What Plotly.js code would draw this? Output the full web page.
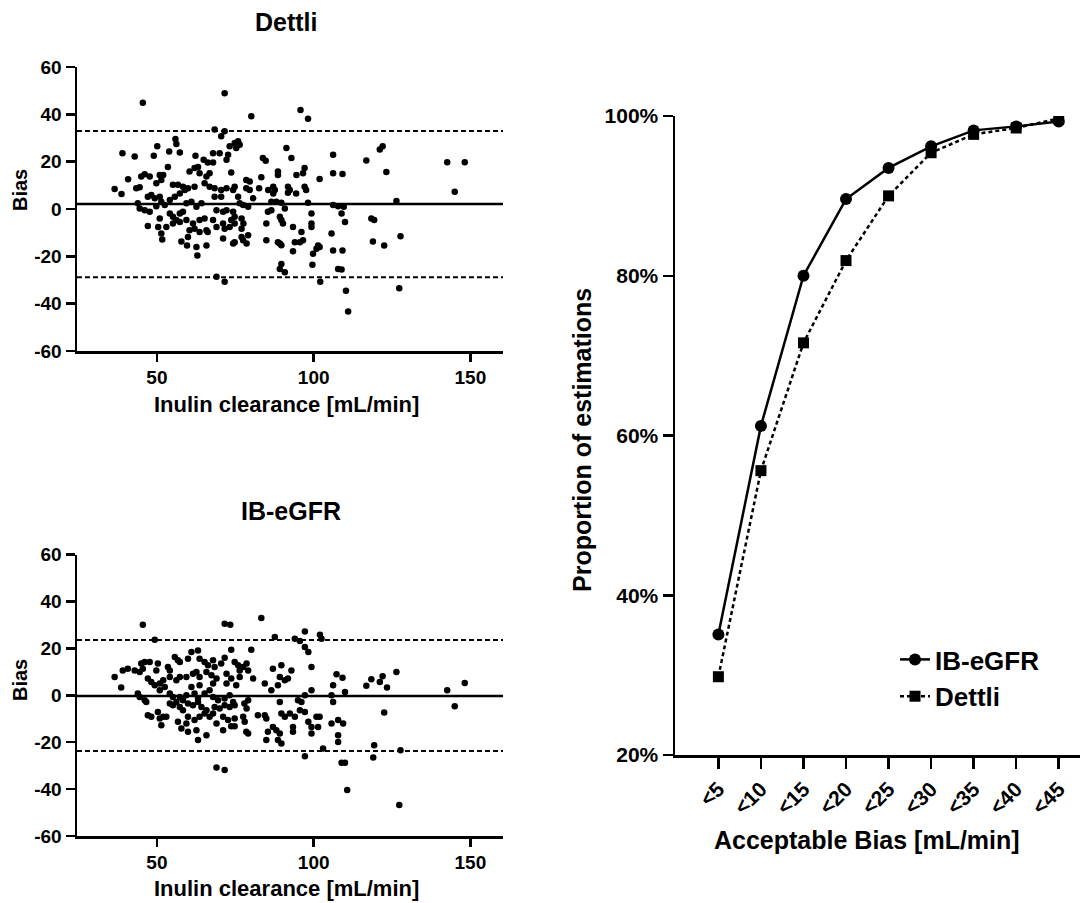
<!DOCTYPE html>
<html>
<head>
<meta charset="utf-8">
<script src="https://cdn.plot.ly/plotly-3.0.1.min.js"></script>
<style>
html,body{margin:0;padding:0;background:#fff;}
#chart{width:1083px;height:903px;}
#chart text, #chart tspan{font-weight:700 !important;}
</style>
</head>
<body>
<div id="chart"></div>
<script>
// ---- Dettli Bland-Altman data (Inulin clearance vs bias) ----
const dettliX = [45.5,39,42.9,50.1,49,53.9,57.3,55.9,56.2,62.3,53.5,63.1,64.9,66.2,40.8,36.5,38.7,45,46.1,47.7,43.4,44.5,50.9,52,51.4,49.8,55.1,56.7,58.3,59.9,60.4,62,63.6,65.8,66.8,65.2,66.8,62,47.1,48.2,49.3,50.9,43.9,44.5,46.1,47.7,49.8,51.4,52.5,54.1,55.7,57.3,58.9,54.1,55.1,56.2,57.3,58.3,59.4,61,62.6,64.2,47.1,50.9,50.4,53,51.4,51.7,55.1,57.3,59.4,61.5,63.6,65.2,60.4,62,63.6,65.8,57.8,59.6,59.9,62.6,62.9,65.8,66.2,
71.6,80.1,95.8,98.2,68.4,71.6,70.5,73.2,74.8,75.9,76.4,75.3,67.9,70,72.7,72.2,67.9,73.7,91.3,92.9,83.8,84.7,88.6,88.6,83.3,94.5,97.1,96.6,101.9,106.2,106.2,68.4,70.5,72.2,74.8,74.3,78.5,79.6,78.5,79.6,82.6,85.5,87.1,87.6,87.1,91.8,92.4,91.8,94.4,97.1,97.6,68.4,70.5,75.9,76.4,77.5,79.1,80.7,86.5,88.1,89.7,90.8,98.2,106.2,107.8,69,71.1,72.2,74.3,74.8,73.7,74.8,73.2,71.1,71.6,69,67.9,77,77.6,77,85.4,86.5,84.9,89.2,89.7,90.2,93.4,96.1,95.6,99.3,99.3,99.3,105.7,71.1,74.3,74.8,77,77.5,78.6,79.1,84.9,88.6,89.2,89.7,94,93.4,96.6,99.8,100.9,101.4,101.9,99.6,106.2,107.8,89.7,89.2,90.8,69,71.6,102.1,
121.1,122,116.8,123.2,109.2,142.6,148.2,145,126.4,109.6,108.9,110,118.4,119.3,127.7,118.9,122.5,109.2,108.9,110.3,127.3,111];
const dettliBias = [44.9,23.6,22.2,26.5,22.5,24.3,23.9,29.6,27.5,22.5,17.7,17.7,20.8,19.7,12.6,8.5,6.3,13.7,14.7,13.7,8.8,9.2,14.4,14.4,12.3,10.9,10.2,10.2,9.4,8.8,15.8,17.3,15.1,13.7,15.1,10.9,9.4,9.4,5.2,5.9,4.5,5.2,2.4,0.2,-0.5,-1.2,1.2,3.1,1.7,3.8,5.2,6.6,8.0,-1.9,-3.3,-4.7,-1.9,-1.2,2.4,3.1,0.9,2.4,-7.2,-4,-7.6,-7.6,-10.4,-12.9,-6.1,-5.5,-4.7,-6.1,-4.7,-4,-9,-8.3,-9.7,-9,-13.7,-15.4,-11.8,-16.1,-19.6,-15.4,-9.7,
48.9,39.2,41.8,38.1,33.6,32.8,30.7,26.5,27.9,28.6,27.2,25.8,23.6,23.6,22.9,20.8,19.7,15.4,25.8,21.5,21.5,20.4,15.8,14.4,13.4,14.4,17.3,15.1,12.7,22.9,15.1,8.8,8,8.8,9.4,8,12.3,11.6,8.8,8,8.8,8,9.4,8,6.6,9.4,8,6.9,6.6,9.4,8,5.2,5.2,5.2,2.4,1.7,0.9,4.5,3.1,3.1,2.6,0.2,2.6,1.7,1.2,-0.5,-1.2,-0.5,-1.2,-3.3,-4.7,-6.1,-7.6,-6.1,-8.3,-7.6,-4.7,-4,-6.1,-8.3,-1.2,-0.5,-6.1,-3.3,-4.7,-6.1,-7.6,-9.7,-14,-1.9,-6.1,-7.6,-10.4,-12.5,-14.6,-14,-11.8,-13.2,-14.6,-11.1,-13.2,-14,-14.6,-15.3,-14,-17.9,-13.2,-18.9,-16.8,-15.4,-16.1,-23.6,-17.5,-25.3,-23.2,-25.3,-26.7,-28.6,-30.7,-30.7,
25.1,26.5,20.5,15.6,14.8,19.8,19.8,7.3,3.4,0.9,-1.9,-5.5,-4,-4.7,-11.5,-13.7,-15.4,-17.5,-25.6,-34.5,-33.5,-43.3];
const dettliMean = 2.1, dettliUpper = 33.0, dettliLower = -28.8;

// ---- IB-eGFR Bland-Altman data ----
const ibX = [45.5,49.3,36.5,38.6,39.1,40.7,42.9,44.5,45.5,45,46.1,47.7,50.3,49.8,47.1,48.2,49.3,50.9,52,53.5,54.1,55.7,56.7,57.3,59.9,61,63.1,63.6,65.2,66.3,54.1,56.2,57.3,59.4,61.5,62.6,63.6,65.8,67.4,43.9,44.5,46.1,46.6,50.9,52.5,54.1,55.1,57.3,58.3,59.4,61,62,63.1,63.6,65.2,66.8,67.9,54.1,55.1,56.2,57.3,58.3,59.9,61.5,63.1,64.2,65.8,47.1,48.2,50.3,50.9,52,51.4,53,56.7,57.8,59.4,59.9,62,62.6,65.8,63.1,59.9,63.6,65.2,66.8,
71.6,73.4,83.3,87.6,94,95.6,97.2,102,102.5,97.2,98.3,73.7,80.1,67.9,71.6,70.5,68.4,69,72.2,74.8,75.9,76.4,77.5,78.6,79.1,76.4,73.7,80.7,75.3,72.2,87,89.7,92.9,89.2,90.8,91.8,88.6,84.4,99.3,107.3,106.2,110,86.5,99.3,96.1,95,97.2,89.2,105.7,106.2,67.9,69.5,71.6,73.2,74.3,73.2,74.8,71.6,68.4,70,67.9,69,71.1,72.7,74.8,77.9,79.1,78.6,77.5,78,71.1,73.7,74.8,78.5,79.1,84.9,85.4,87,88.1,89.2,88.6,89.7,82.2,84.4,84.9,89.7,90.8,92.4,94,93.4,93.4,95.6,97.2,98.3,99.3,99.3,100.9,101.9,101.4,105.7,107.8,109.4,107.8,107.8,103,97.2,69,71.6,108.9,110,110.7,
109.2,116.8,118.4,121.1,122,123.4,126.4,142.6,148.2,145,122.5,119.3,119,127.7,127.3];
const ibBias = [30,23.7,7.8,3.3,10.6,11.3,10.6,9.9,11.3,13.5,14.2,14.2,13.5,10.6,7.1,5.7,4.3,5,6.4,12,10.6,16.3,14.9,14.2,15.6,18.4,19.1,15.6,14.2,12.8,7.8,6.4,7.8,7.8,9.2,9.9,7.8,9.9,8.5,0.7,-0.7,-2.1,-2.9,2.1,3.5,0.7,-0.7,-0.7,-2.1,0,3.5,0.7,-1.4,4.3,0.7,2.1,5,-3.5,-4.3,-2.9,-5,-6.4,-3.5,-4.3,-2.9,-5,-6.4,-8.5,-9.2,-7.1,-9.9,-9.2,-12.8,-9.2,-11.3,-14.2,-12,-15.6,-10.6,-14.9,-17,-19.1,-9.2,-9.2,-7.8,-9.2,
30.5,30.1,32.9,24.8,24.1,23.1,27.2,25.8,24.1,20.6,18.4,19.4,19.4,14.9,16,13.5,12,7.1,9.2,14.2,12.8,10.6,12,13.5,10.6,7.8,7.1,7.1,4.3,5,11.3,12.8,10.6,7.8,6.4,7.1,4.3,5,12,8.9,4.3,1.4,2.1,2.1,-2.9,-2.1,0,-2.9,0,-2.9,-0.7,-2.1,-1.4,0,-2.9,-5,-4.3,-4.3,-5,-5.7,-7.8,-12,-9.2,-10.6,-9.9,-3.5,-2.1,-5.7,-9.2,-11.3,-14.9,-13.2,-13.2,-15.6,-16.3,-19.1,-15.6,-13.5,-14.9,-16.3,-19.1,-20.6,-8.5,-8.5,-9.9,-7.8,-9.2,-7.8,-9.2,-13.5,-15.6,-6.4,-7.1,-11.3,-13.5,-16.3,-9.2,-9.2,-13.5,-12,-10.6,-12,-17,-19.9,-22.7,-26,-30.8,-31.9,-28.8,-28.8,-40.4,
7.5,4,6.8,5.7,8.1,3.3,9.9,2.1,5.2,-4.7,-7.4,-21.3,-26.5,-23.4,-46.8];
const ibMean = -0.3, ibUpper = 23.5, ibLower = -23.8;

// ---- Acceptable bias (cumulative proportion) ----
const biasCategories = ["<5","<10","<15","<20","<25","<30","<35","<40","<45"];
const ibProp = [35.1,61.2,80.0,89.6,93.5,96.2,98.2,98.7,99.3];
const dettliProp = [29.8,55.6,71.6,81.9,90.0,95.4,97.7,98.5,99.7];

// ---- Tick labels ----
const clearanceTicks = [50, 100, 150];
const biasTickVals = [-60,-40,-20,0,20,40,60];
const biasTickLabels = ["-60","-40","-20","0","20","40","60"];
const propTickVals = [20,40,60,80,100];
const propTickLabels = ["20%","40%","60%","80%","100%"];

const bold = t => '<b>' + String(t).replace(/&/g,'&amp;').replace(/</g,'&lt;').replace(/>/g,'&gt;') + '</b>';
const catIdx = biasCategories.map((c,i)=>i);
const FONT = "Liberation Sans, Arial, Helvetica, sans-serif";
const W = 1083, H = 903;
const px = v => v / W, py = v => 1 - v / H;

const traces = [
  {x: dettliX, y: dettliBias, xaxis:'x', yaxis:'y', type:'scatter', mode:'markers',
   marker:{color:'#000', size:6.5}, showlegend:false, hoverinfo:'skip'},
  {x: ibX, y: ibBias, xaxis:'x2', yaxis:'y2', type:'scatter', mode:'markers',
   marker:{color:'#000', size:6.5}, showlegend:false, hoverinfo:'skip'},
  {x: catIdx, y: ibProp, xaxis:'x3', yaxis:'y3', type:'scatter', mode:'lines+markers', name:'IB-eGFR',
   line:{color:'#000', width:2.5}, marker:{color:'#000', size:12, symbol:'circle'}},
  {x: catIdx, y: dettliProp, xaxis:'x3', yaxis:'y3', type:'scatter', mode:'lines+markers', name:'Dettli',
   line:{color:'#000', width:2.5, dash:'4px,3px'}, marker:{color:'#000', size:11, symbol:'square'}}
];

const tickFontS = {family:FONT, size:19, color:'#000', weight:'bold'};
const scatterX = (anchor) => ({
  domain:[px(77), px(503)], anchor: anchor, range:[24.5,160.4], tickmode:'array', tickvals:clearanceTicks,
  ticktext: clearanceTicks.map(bold),
  ticks:'outside', ticklen:8, tickwidth:2.5, tickcolor:'#000', showline:true, linewidth:2.5, linecolor:'#000',
  showgrid:false, zeroline:false, tickfont:tickFontS, fixedrange:true
});
const scatterY = (anchor, d0, d1) => ({
  domain:[d0, d1], anchor: anchor, range:[-60,60], tickmode:'array', tickvals:biasTickVals, ticktext:biasTickLabels.map(bold),
  ticks:'outside', ticklen:9, tickwidth:2.5, tickcolor:'#000', showline:true, linewidth:2.5, linecolor:'#000',
  showgrid:false, zeroline:false, tickfont:tickFontS, fixedrange:true
});

function hline(xr, yr, yv, dashed) {
  return {type:'line', xref: xr + ' domain', yref: yr, x0:0, x1:1, y0:yv, y1:yv,
    line:{color:'#000', width: dashed ? 2 : 2.5, dash: dashed ? '5px,3px' : 'solid'}};
}

const ann = (text, x, y, size, angle) => ({
  text: text, x: x, y: y, xref:'paper', yref:'paper', showarrow:false,
  xanchor:'center', yanchor:'middle', textangle: angle || 0,
  font:{family:FONT, size:size, color:'#000', weight:'bold'}
});

const layout = {
  width: W, height: H, margin:{l:0, r:0, t:0, b:0}, paper_bgcolor:'#fff', plot_bgcolor:'#fff',
  font:{family:FONT, color:'#000', weight:'bold'},
  hovermode:false,
  xaxis: scatterX('y'),
  yaxis: scatterY('x', py(351), py(67)),
  xaxis2: scatterX('y2'),
  yaxis2: scatterY('x2', py(836), py(554.5)),
  xaxis3: {domain:[px(675), px(1080)], anchor:'y3', range:[-1.02, 8.5], tickmode:'array', tickvals: catIdx, ticktext: biasCategories.map(bold),
    tickangle:-45, ticks:'outside', ticklen:11, tickwidth:2.5, tickcolor:'#000', showline:true, linewidth:2.5,
    linecolor:'#000', showgrid:false, zeroline:false, tickfont:{family:FONT, size:21, color:'#000', weight:'bold'}, fixedrange:true},
  yaxis3: {domain:[py(755), py(116)], anchor:'x3', range:[20,100], tickmode:'array', tickvals:propTickVals, ticktext:propTickLabels.map(bold),
    ticks:'outside', ticklen:10, tickwidth:2.5, tickcolor:'#000', showline:true, linewidth:2.5, linecolor:'#000',
    showgrid:false, zeroline:false, tickfont:{family:FONT, size:21, color:'#000', weight:'bold'}, fixedrange:true},
  shapes: [
    hline('x','y', dettliMean, false), hline('x','y', dettliUpper, true), hline('x','y', dettliLower, true),
    hline('x2','y2', ibMean, false), hline('x2','y2', ibUpper, true), hline('x2','y2', ibLower, true)
  ],
  annotations: [
    ann('Dettli', px(286), py(22), 25),
    ann('IB-eGFR', px(291), py(511), 25),
    ann('Inulin clearance [mL/min]', px(286), py(405), 22),
    ann('Inulin clearance [mL/min]', px(286), py(888), 22),
    ann('Bias', px(20), py(190), 20, -90),
    ann('Bias', px(20), py(680), 20, -90),
    ann('Proportion of estimations', px(582), py(440), 25, -90),
    ann('Acceptable Bias [mL/min]', px(867), py(840), 25)
  ],
  legend: {x: px(895), y: py(636), xanchor:'left', yanchor:'top', bgcolor:'rgba(0,0,0,0)',
    font:{family:FONT, size:26, color:'#000', weight:'bold'}, tracegroupgap:0}
};

Plotly.newPlot('chart', traces, layout, {staticPlot:true, displayModeBar:false});
</script>
</body>
</html>
